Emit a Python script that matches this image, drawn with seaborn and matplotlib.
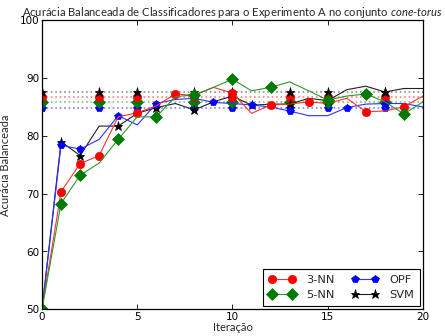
import matplotlib
matplotlib.use("Agg")
import matplotlib.pyplot as plt
import seaborn as sns
import numpy as np

iteracoes = list(range(21))
knn3 = [50, 70.35, 75.2, 76.6, 83.3, 84.0, 85.2, 87.25, 87.0, 88.4, 87.4,
        83.9, 85.35, 85.5, 85.9, 85.6, 86.5, 84.2, 84.3, 85.05, 86.9]
knn5 = [50, 68.3, 73.2, 75.3, 79.4, 83.3, 83.3, 86.8, 87.1, 88.4, 89.8,
        87.8, 88.4, 89.35, 87.8, 86.2, 86.9, 87.25, 85.9, 83.8, 85.9]
opf = [50, 78.4, 77.7, 79.4, 83.5, 81.9, 85.6, 86.3, 86.5, 85.8, 85.6,
       85.35, 85.0, 84.3, 83.5, 83.5, 84.9, 85.5, 85.6, 85.6, 85.0]
svm = [50, 79.0, 76.6, 81.7, 81.7, 83.9, 84.9, 85.6, 84.5, 85.9, 86.9,
       85.3, 85.5, 85.5, 86.5, 86.1, 88.0, 88.6, 87.6, 88.2, 88.2]
# horizontal reference levels (dotted)
nivel = {"3-NN": 86.8, "5-NN": 85.9, "OPF": 84.9, "SVM": 87.6}

titulo = "Acurácia Balanceada de Classificadores para o Experimento A no conjunto "
xticks = [0, 5, 10, 15, 20]
yticks = [50, 60, 70, 80, 90, 100]

sns.set_style("ticks", {"xtick.direction": "in", "ytick.direction": "in",
                        "xtick.top": True, "ytick.right": True,
                        "axes.edgecolor": "black"})
plt.rcParams["font.family"] = ["DejaVu Sans"]
plt.rcParams["mathtext.fontset"] = "custom"
plt.rcParams["mathtext.it"] = "Lato:italic"
plt.rcParams["mathtext.rm"] = "Lato"

fig = plt.figure(figsize=(4.45, 3.36), dpi=100)
ax = fig.add_axes([42 / 445, 1 - 309.3 / 336, 381 / 445, 289 / 336])

estilos = {
    "3-NN": dict(color="#ff0000", marker="o", ms=6.0, line="#ff3030", dot="#ff8080"),
    "5-NN": dict(color="#007a00", marker="D", ms=6.2, line="#2a9a2a", dot="#80c080"),
    "OPF": dict(color="#0000ff", marker="p", ms=6.0, line="#3030ff", dot="#8080ff"),
    "SVM": dict(color="#000000", marker="*", ms=6.5, line="#202020", dot="#909090"),
}
series = {"3-NN": knn3, "5-NN": knn5, "OPF": opf, "SVM": svm}

x = np.array(iteracoes)
for nome in ["OPF", "5-NN", "3-NN", "SVM"]:
    st = estilos[nome]
    sns.lineplot(x=x, y=np.full(len(x), nivel[nome]), ax=ax, color=st["dot"],
                 linestyle=":", linewidth=1.2, marker=st["marker"], markersize=st["ms"],
                 markerfacecolor=st["color"], markeredgecolor=st["color"],
                 markeredgewidth=0.5, markevery=0.1, legend=False)

handles = {}
for nome in ["SVM", "OPF", "3-NN", "5-NN"]:
    st = estilos[nome]
    sns.lineplot(x=x, y=np.array(series[nome]), ax=ax, color=st["line"],
                 linewidth=0.8, marker=st["marker"], markersize=st["ms"],
                 markerfacecolor=st["color"], markeredgecolor=st["color"],
                 markeredgewidth=0.5, markevery=0.1, label=nome, legend=False)
    handles[nome] = ax.lines[-1]

ax.set_xlim(0, 20)
ax.set_ylim(50, 100)
ax.set_xticks(xticks)
ax.set_yticks(yticks)
ax.tick_params(labelsize=7.5, length=3.5, width=0.6, pad=2, colors="black")
for s in ax.spines.values():
    s.set_linewidth(0.9)
    s.set_color("black")

ax.set_title(titulo + r"$\it{cone}$-$\it{torus}$", fontsize=8.1, family="Lato", pad=3)
ax.set_xlabel("Iteração", fontsize=8, family="Lato", labelpad=0)
ax.set_ylabel("Acurácia Balanceada", fontsize=8, family="Lato", labelpad=6)

leg = ax.legend([handles[n] for n in ["3-NN", "5-NN", "OPF", "SVM"]],
                ["3-NN", "5-NN", "OPF", "SVM"], loc="lower right", ncol=2,
                numpoints=2, fontsize=8.2, fancybox=False, framealpha=1,
                edgecolor="black", borderpad=0.5, handlelength=2.4,
                columnspacing=1.5, handletextpad=0.9, borderaxespad=0.3,
                labelspacing=0.45)
leg.get_frame().set_linewidth(0.8)

fig.savefig("out.png", dpi=100)
